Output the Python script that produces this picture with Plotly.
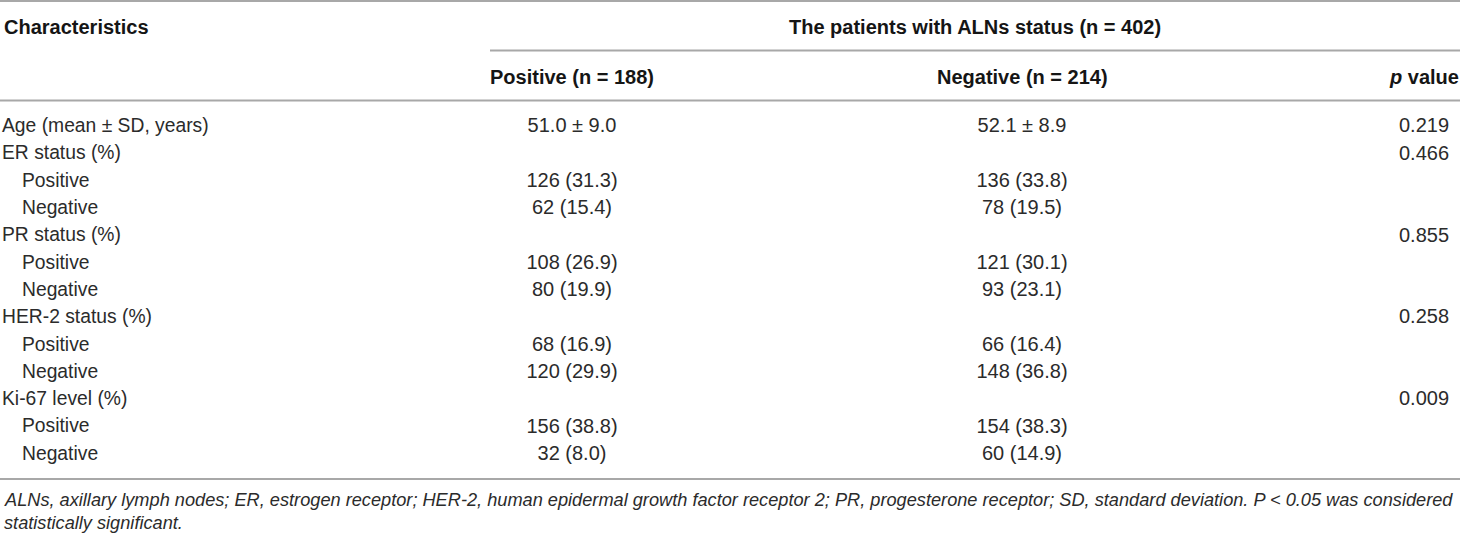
import plotly.graph_objects as go

# ---- data ----
row_labels = ["Age (mean ± SD, years)", "ER status (%)", "Positive", "Negative",
              "PR status (%)", "Positive", "Negative", "HER-2 status (%)", "Positive", "Negative",
              "Ki-67 level (%)", "Positive", "Negative"]
row_indent = [0, 0, 1, 1, 0, 1, 1, 0, 1, 1, 0, 1, 1]
positive_vals = ["51.0 ± 9.0", "", "126 (31.3)", "62 (15.4)", "", "108 (26.9)", "80 (19.9)",
                 "", "68 (16.9)", "120 (29.9)", "", "156 (38.8)", "32 (8.0)"]
negative_vals = ["52.1 ± 8.9", "", "136 (33.8)", "78 (19.5)", "", "121 (30.1)", "93 (23.1)",
                 "", "66 (16.4)", "148 (36.8)", "", "154 (38.3)", "60 (14.9)"]
p_values = ["0.219", "0.466", "", "", "0.855", "", "", "0.258", "", "", "0.009", "", ""]

header_char = "Characteristics"
header_group = "The patients with ALNs status (n = 402)"
header_pos = "Positive (n = 188)"
header_neg = "Negative (n = 214)"
header_p = "<i>p</i> value"
footnote_1 = ("ALNs, axillary lymph nodes; ER, estrogen receptor; HER-2, human epidermal growth factor "
              "receptor 2; PR, progesterone receptor; SD, standard deviation. P < 0.05 was considered")
footnote_2 = "statistically significant."

# ---- layout constants ----
W, H = 1460, 536
FONT = "Liberation Sans, Arial, sans-serif"
FS_LABEL = 19.3
FS_NUM = 20
FS_HEAD = 20
FS_FOOT = 18.2
BODY = "#2b2b2b"
HEAD = "#151515"
LINE = "#a8a8a8"
row_y0, row_dy = 127.3, 27.3
x_label, x_indent = 2, 22
x_pos_col, x_neg_col, x_p_col = 572, 1022, 1424

ys = [row_y0 + i * row_dy for i in range(len(row_labels))]

fig = go.Figure()

# row labels
fig.add_trace(go.Scatter(
    x=[x_indent if ind else x_label for ind in row_indent], y=ys, text=row_labels,
    mode="text", textposition="middle right",
    textfont=dict(family=FONT, size=FS_LABEL, color=BODY), hoverinfo="skip", showlegend=False))
# positive column
fig.add_trace(go.Scatter(
    x=[x_pos_col] * len(ys), y=ys, text=positive_vals, mode="text", textposition="middle center",
    textfont=dict(family=FONT, size=FS_NUM, color=BODY), hoverinfo="skip", showlegend=False))
# negative column
fig.add_trace(go.Scatter(
    x=[x_neg_col] * len(ys), y=ys, text=negative_vals, mode="text", textposition="middle center",
    textfont=dict(family=FONT, size=FS_NUM, color=BODY), hoverinfo="skip", showlegend=False))
# p values
fig.add_trace(go.Scatter(
    x=[x_p_col] * len(ys), y=ys, text=p_values, mode="text", textposition="middle center",
    textfont=dict(family=FONT, size=FS_NUM, color=BODY), hoverinfo="skip", showlegend=False))

def ann(x, y, text, xanchor="center", bold=False, italic=False, size=FS_HEAD, color=BODY):
    t = text
    if bold:
        t = "<b>" + t + "</b>"
    if italic:
        t = "<i>" + t + "</i>"
    fig.add_annotation(x=x, y=y, xref="x", yref="y", text=t, showarrow=False,
                       xanchor=xanchor, yanchor="middle",
                       font=dict(family=FONT, size=size, color=color))

ann(x_label, 27, header_char, xanchor="left", bold=True, color=HEAD)
ann(975, 27, header_group, bold=True, color=HEAD)
ann(x_pos_col, 77, header_pos, bold=True, color=HEAD)
ann(x_neg_col, 77, header_neg, bold=True, color=HEAD)
ann(x_p_col, 77, header_p, bold=True, color=HEAD)
ann(x_label, 500, footnote_1, xanchor="left", italic=True, size=FS_FOOT)
ann(x_label, 523, footnote_2, xanchor="left", italic=True, size=FS_FOOT)

# rules
for (x0, x1, y) in [(0, W, 1), (490, W, 50.5), (0, W, 100.5), (0, W, 479)]:
    fig.add_shape(type="line", x0=x0, x1=x1, y0=y, y1=y, xref="x", yref="y",
                  line=dict(color=LINE, width=2))

fig.update_layout(
    width=W, height=H, margin=dict(l=0, r=0, t=0, b=0),
    paper_bgcolor="white", plot_bgcolor="white",
    xaxis=dict(range=[0, W], visible=False, fixedrange=True),
    yaxis=dict(range=[H, 0], visible=False, fixedrange=True),
)

fig.write_html("out.html", config={"displayModeBar": False},
               post_script="document.body.style.margin='0';document.body.style.overflow='hidden';")
